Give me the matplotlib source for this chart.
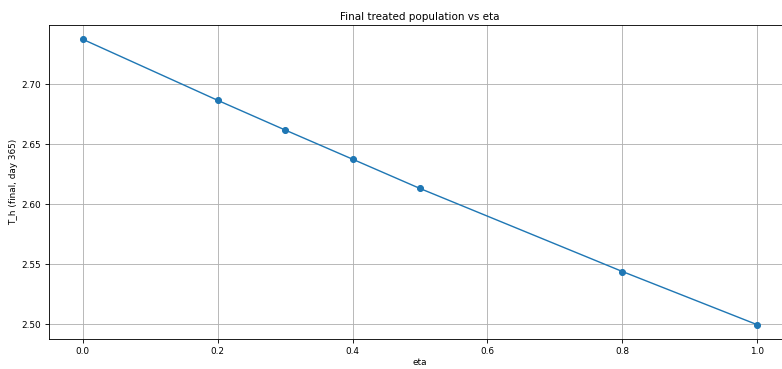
import matplotlib
matplotlib.use("Agg")
import matplotlib.pyplot as plt

eta = [0.0, 0.2, 0.3, 0.4, 0.5, 0.8, 1.0]
T_h_final = [2.7373, 2.6865, 2.6618, 2.6375, 2.6131, 2.5440, 2.4997]

DPI = 78
W, H = 782, 369
plt.rcParams["font.size"] = 8.2
fig = plt.figure(figsize=(W / DPI, H / DPI), dpi=DPI)
ax = fig.add_axes([49 / W, 1 - 339 / H, (791 - 49) / W, (339 - 25) / H])
ax.plot(eta, T_h_final, marker="o", markersize=5.5, linewidth=1.3)
ax.set_title("Final treated population vs eta", fontsize=9.6, pad=4.5)
ax.set_xlabel("eta", labelpad=2.5)
ax.set_ylabel("T_h (final, day 365)", labelpad=3)
ax.grid(True)
fig.savefig("out.png", dpi=DPI)
